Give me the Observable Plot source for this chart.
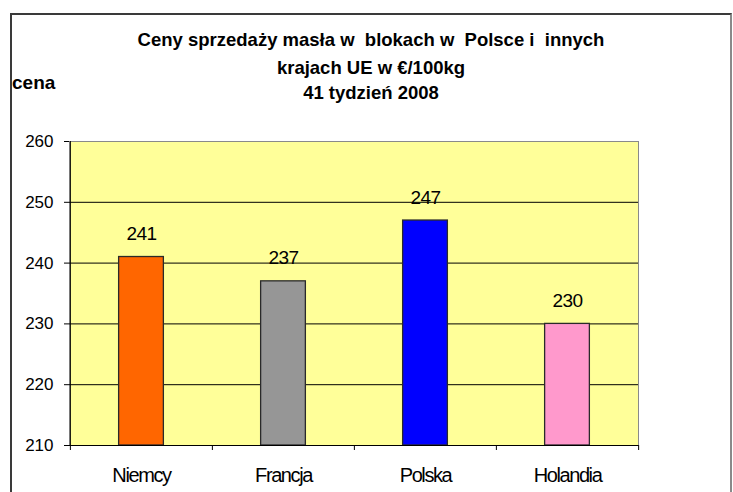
<!DOCTYPE html>
<html>
<head>
<meta charset="utf-8">
<script src="https://cdn.jsdelivr.net/npm/d3@7"></script>
<script src="https://cdn.jsdelivr.net/npm/@observablehq/plot@0.6"></script>
<style>
  html, body { margin: 0; padding: 0; background: #fff; }
  body { width: 733px; height: 492px; position: relative; overflow: hidden; font-family: "Liberation Sans", Arial, sans-serif; }
  #frame { position: absolute; left: 10px; top: 13px; width: 718px; height: 500px; border-left: 2px solid #3a3a3a; border-top: 2px solid #3a3a3a; border-right: 2px solid #8a8a8a; }
  .title { position: absolute; left: 10px; width: 722px; text-align: center; font-weight: bold; font-size: 18.5px; color: #000; line-height: 22px; white-space: pre; }
  #ylab { position: absolute; left: 12px; top: 72px; font-weight: bold; font-size: 19px; color: #000; }
  #chart { position: absolute; left: 0; top: 0; }
</style>
</head>
<body>
<div id="frame"></div>
<div id="t1" class="title"></div>
<div id="t2" class="title"></div>
<div id="t3" class="title"></div>
<div id="ylab"></div>
<div id="chart"></div>
<script>
const countries = ["Niemcy", "Francja", "Polska", "Holandia"];
const prices = [241, 237, 247, 230];
const barColors = ["#FF6600", "#969696", "#0000FF", "#FF99CC"];
const yTicks = [210, 220, 230, 240, 250, 260];
const titleLines = [
  "Ceny sprzedaży masła w  blokach w  Polsce i  innych",
  "krajach UE w €/100kg",
  "41 tydzień 2008"
];
const yLabel = "cena";

const data = countries.map((c, i) => ({country: c, value: prices[i]}));

const W = 733, H = 492;
const mL = 69, mR = 95, mT = 141, mB = 47;
const step = (W - mL - mR) / countries.length;
const half = step / 2;
const barW = 45;
const inset = (step - barW) / 2;
const y0 = yTicks[0], y1 = yTicks[yTicks.length - 1];

const titleTops = [29, 57, 82];
["t1", "t2", "t3"].forEach((id, i) => {
  const el = document.getElementById(id);
  el.textContent = titleLines[i];
  el.style.top = titleTops[i] + "px";
});
document.getElementById("ylab").textContent = yLabel;

const chart = Plot.plot({
  width: W,
  height: H,
  marginLeft: mL,
  marginRight: mR,
  marginTop: mT,
  marginBottom: mB,
  style: {fontFamily: "'Liberation Sans', Arial, sans-serif", background: "transparent", color: "#000", overflow: "visible"},
  x: {domain: countries, padding: 0, axis: null},
  y: {domain: [y0, y1], axis: null},
  color: {domain: countries, range: barColors},
  marks: [
    Plot.frame({fill: "#FFFF99", stroke: "#8a8a8a"}),
    Plot.gridY(yTicks.slice(1, -1), {stroke: "#000", strokeOpacity: 1}),
    Plot.barY(data, {x: "country", y1: y0, y2: "value", fill: "country", stroke: "#2a2a2a", strokeWidth: 1.3, insetLeft: inset, insetRight: inset}),
    Plot.text(data, {x: "country", y: "value", text: d => String(d.value), dy: -23, fontSize: 19, fill: "#000"}),
    Plot.ruleY([y0], {stroke: "#000"}),
    Plot.ruleX([countries[0]], {y1: y0, y2: y1, dx: -half, stroke: "#000"}),
    Plot.axisY({ticks: yTicks, tickSize: 5, tickPadding: 11, fontSize: 17, label: null}),
    Plot.axisX({tickSize: 0, tickPadding: 22, fontSize: 20, label: null}),
    Plot.axisX({ticks: countries, tickSize: 5, tickFormat: () => "", dx: -half, label: null}),
    Plot.axisX({ticks: [countries[countries.length - 1]], tickSize: 5, tickFormat: () => "", dx: half, label: null})
  ]
});
// condensed category labels, as in the reference
d3.select(chart).selectAll("g[aria-label='x-axis tick label'] text").style("letter-spacing", "-1.4px");
d3.select(chart).selectAll("g[aria-label='text'] text").style("letter-spacing", "-0.5px");
document.getElementById("chart").appendChild(chart);
</script>
</body>
</html>
